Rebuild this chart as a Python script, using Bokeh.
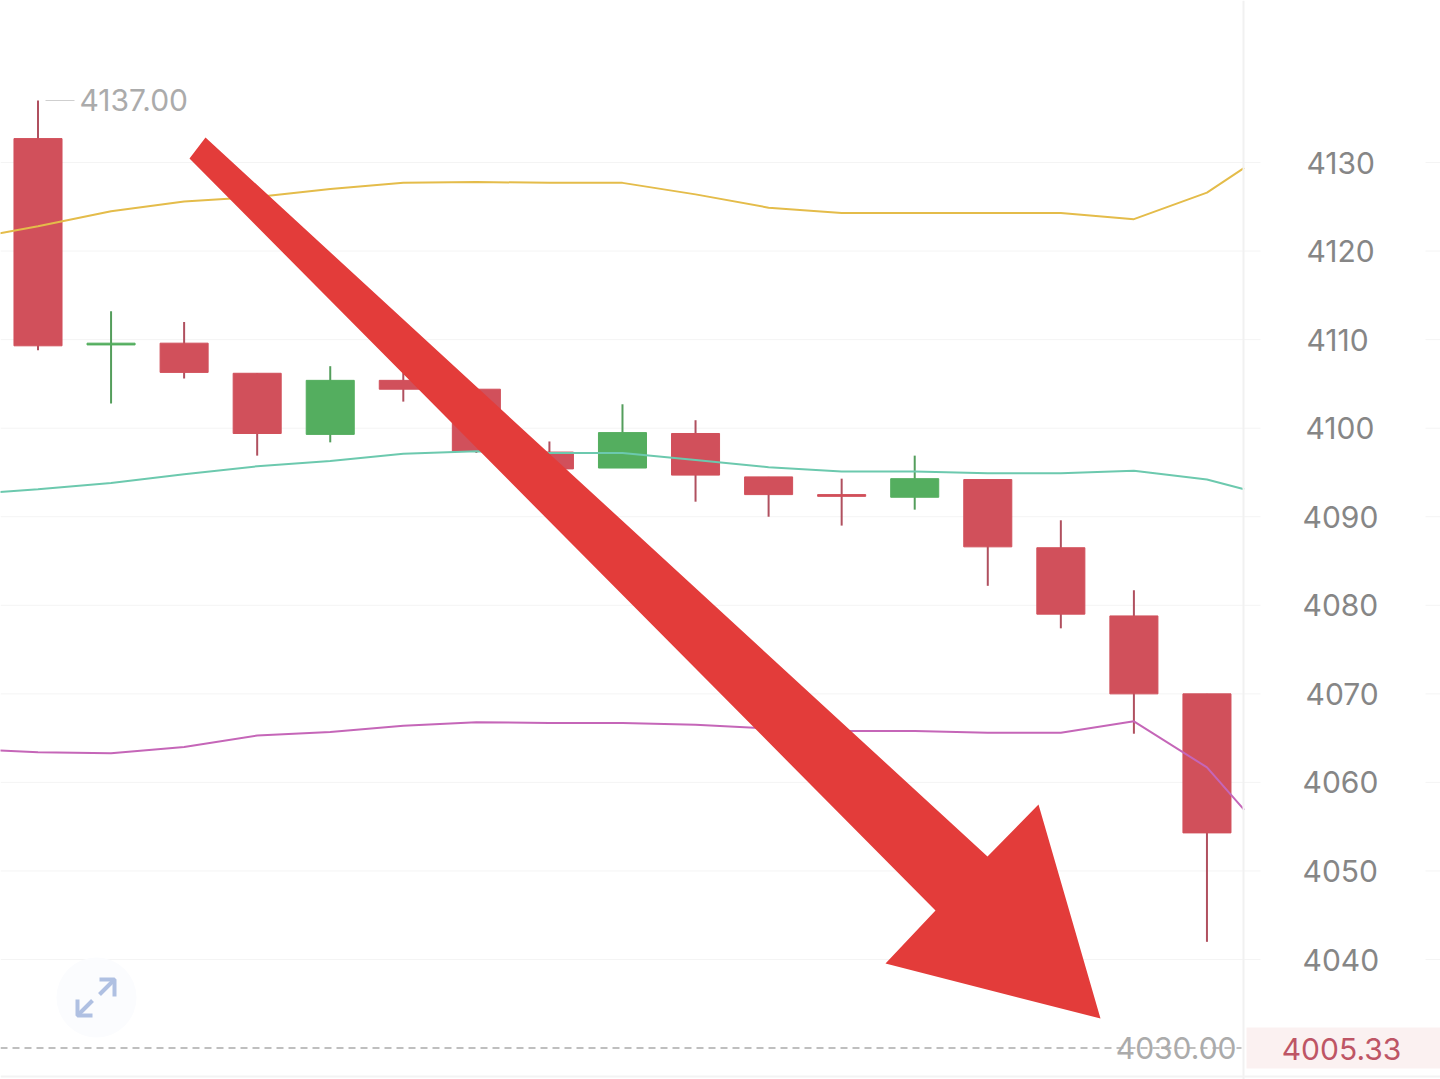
from bokeh.plotting import figure
from bokeh.embed import file_html
from bokeh.resources import INLINE
from bokeh.models import LinearAxis, FixedTicker, Range1d, Label, BoxAnnotation, NumeralTickFormatter

# ---- data -----------------------------------------------------------------
idx   = list(range(17))
open_ = [4132.7,4109.4,4109.6,4106.2,4099.3,4105.4,4104.4,4097.3,4095.5,4099.4,4094.5,4092.5,4092.2,4094.2,4086.5,4078.8,4070.0]
close = [4109.3,4109.6,4106.3,4099.4,4105.4,4104.4,4097.4,4095.4,4099.5,4094.7,4092.5,4092.3,4094.3,4086.6,4079.0,4070.0,4054.3]
high  = [4137.0,4113.2,4112.0,4106.2,4107.0,4106.5,4104.4,4098.5,4102.7,4100.9,4094.5,4094.3,4096.9,4094.2,4089.6,4081.7,4070.0]
low   = [4108.8,4102.8,4105.6,4096.9,4098.4,4103.0,4097.2,4095.4,4095.5,4091.7,4090.0,4089.0,4090.8,4082.2,4077.4,4065.5,4042.0]

band_x = [-0.52,0,1,2,3,4,5,6,7,8,9,10,11,12,13,14,15,16,16.51]
upper  = [4122.0,4122.8,4124.5,4125.6,4126.1,4127.0,4127.7,4127.8,4127.7,4127.7,4126.4,4124.9,4124.3,4124.3,4124.3,4124.3,4123.6,4126.6,4129.4]
middle = [4092.8,4093.1,4093.8,4094.8,4095.7,4096.3,4097.1,4097.4,4097.2,4097.2,4096.4,4095.6,4095.1,4095.1,4094.9,4094.9,4095.2,4094.2,4093.1]
lower  = [4063.6,4063.4,4063.3,4064.0,4065.3,4065.7,4066.4,4066.8,4066.7,4066.7,4066.5,4066.1,4065.8,4065.8,4065.6,4065.6,4066.9,4061.7,4056.9]

y_ticks = [4040,4050,4060,4070,4080,4090,4100,4110,4120,4130]
ticks_a = [4130,4120,4110]
ticks_c = [4100,4070]
ticks_b = [4090,4080,4060,4050,4040]
max_val, min_val, last_val = 4137.00, 4030.00, 4005.33

# ---- layout ----------------------------------------------------------------
def X(px):  return (px - 37.5) / 73.06
def Y(py):  return 4130 - (py - 162) / 8.856

FONT = "Inter"
RED, GREEN = "#D1505B", "#54AE5F"
WRED, WGREEN = "#B0505F", "#549E5C"
GRID = "#F4F4F4"

p = figure(width=1440, height=1079, min_border=0, toolbar_location=None,
           output_backend="svg", x_range=Range1d(X(0), X(1440)), y_range=Range1d(Y(1079), Y(0)),
           x_axis_location=None, y_axis_location=None, background_fill_color="white",
           border_fill_color="white", outline_line_color=None)
p.xgrid.visible = False
p.ygrid.visible = False

# grid lines and their stubs right of the axis
n = len(y_ticks)
p.segment([X(0)]*n, y_ticks, [X(1260)]*n, y_ticks, line_color=GRID, line_width=1, level="underlay")
p.segment([X(1425)]*n, y_ticks, [X(1440)]*n, y_ticks, line_color=GRID, line_width=1, level="underlay")

# axes drawn inside the frame
def price_axis(ticks, px, line):
    a = LinearAxis(ticker=FixedTicker(ticks=ticks), fixed_location=X(1243), minor_tick_line_color=None,
                   major_tick_line_color=None, axis_line_color=line, axis_line_width=2,
                   major_tick_out=0, major_tick_in=0, major_label_standoff=px,
                   major_label_text_font=FONT, major_label_text_font_size="30px",
                   major_label_text_color="#868686", formatter=NumeralTickFormatter(format="0"))
    p.add_layout(a, "right")
price_axis(ticks_a, 63, "#F1F1F1")
price_axis(ticks_c, 62, None)
price_axis(ticks_b, 59, None)

# candles
down = [i for i in idx if close[i] <= open_[i]]
up   = [i for i in idx if close[i] > open_[i]]
for ids, body, wick in ((down, RED, WRED), (up, GREEN, WGREEN)):
    xs = [idx[i] for i in ids]
    p.segment(xs, [high[i] for i in ids], xs, [low[i] for i in ids], line_color=wick, line_width=2)
    p.vbar(xs, 48/73, [open_[i] for i in ids], [close[i] for i in ids],
           fill_color=body, line_color=body, line_width=1)

# bands
p.line(band_x, upper,  line_color="#E4BC4A", line_width=2)
p.line(band_x, middle, line_color="#6CC9AE", line_width=2)
p.line(band_x, lower,  line_color="#C566B8", line_width=2)

# high marker
p.segment([X(45)], [max_val], [X(74)], [max_val], line_color="#CFCFCF", line_width=1)
p.add_layout(Label(x=79, y=99, x_units="canvas", y_units="canvas", text=f"{max_val:.2f}",
                   text_font=FONT, text_font_size="30px", text_color="#ABABAB",
                   text_baseline="middle", text_align="left"))

# low dashed line
p.segment([X(0)], [min_val], [X(1241)], [min_val], line_color="#ABABAB", line_width=1.5, line_dash="7 5")
p.add_layout(Label(x=1236, y=1047, x_units="canvas", y_units="canvas", text=f"{min_val:.2f}",
                   text_font=FONT, text_font_size="30px", text_color="#ABABAB",
                   text_baseline="middle", text_align="right"))

# expand button
p.scatter([X(96)], [Y(997)], size=80, marker="circle", fill_color="#FBFCFE", line_color=None)
icon = "#AFC0E2"
p.multi_line([[X(99),X(114)],[X(99),X(114),X(114)],[X(92),X(77)],[X(77),X(77),X(92)]],
             [[Y(994),Y(979)],[Y(979),Y(979),Y(996)],[Y(1000),Y(1015)],[Y(999),Y(1015),Y(1015)]],
             line_color=icon, line_width=4)

# big arrow
ax_px = [205,189,935,885,1100,1038,987]
ay_px = [137,158,910,963,1018,804,856]
p.patch([X(v) for v in ax_px], [Y(v) for v in ay_px], fill_color="#E33C3A", line_color=None)

# last price tag and bottom rule
p.add_layout(BoxAnnotation(left=1246, right=1440, top=1027, bottom=1068,
                           left_units="canvas", right_units="canvas", top_units="canvas", bottom_units="canvas",
                           fill_color="#FBF1F1", fill_alpha=1, line_color=None))
p.add_layout(Label(x=1341, y=1048, x_units="canvas", y_units="canvas", text=f"{last_val:.2f}",
                   text_font=FONT, text_font_size="30px", text_color="#BE5565",
                   text_baseline="middle", text_align="center"))
p.add_layout(BoxAnnotation(left=0, right=1440, top=1075, bottom=1077,
                           left_units="canvas", right_units="canvas", top_units="canvas", bottom_units="canvas",
                           fill_color="#F3F3F3", fill_alpha=1, line_color=None))

open("out.html", "w").write(file_html(p, INLINE))
